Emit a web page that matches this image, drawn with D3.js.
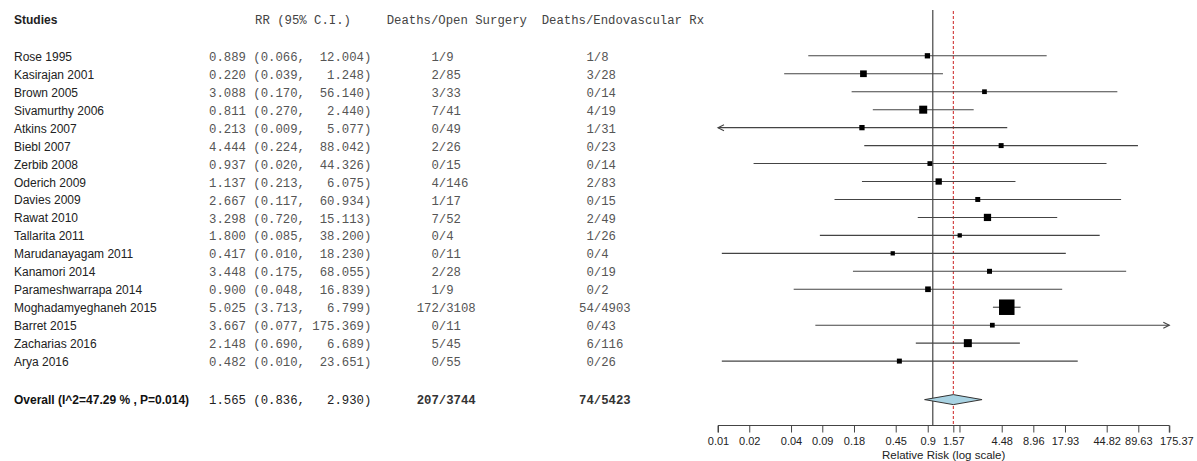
<!DOCTYPE html>
<html>
<head>
<meta charset="utf-8">
<script src="https://cdn.jsdelivr.net/npm/d3@7"></script>
<style>
  html, body { margin: 0; padding: 0; background: #fff; }
  svg { display: block; }
  text { white-space: pre; }
</style>
</head>
<body>
<svg id="chart" width="1197" height="461"></svg>
<script>
// Study-level data: relative risk of death, open surgery vs endovascular repair
const studies = ["Rose 1995", "Kasirajan 2001", "Brown 2005", "Sivamurthy 2006", "Atkins 2007",
  "Biebl 2007", "Zerbib 2008", "Oderich 2009", "Davies 2009", "Rawat 2010", "Tallarita 2011",
  "Marudanayagam 2011", "Kanamori 2014", "Parameshwarrapa 2014", "Moghadamyeghaneh 2015",
  "Barret 2015", "Zacharias 2016", "Arya 2016"];
const rr    = [0.889, 0.220, 3.088, 0.811, 0.213, 4.444, 0.937, 1.137, 2.667, 3.298, 1.800, 0.417, 3.448, 0.900, 5.025, 3.667, 2.148, 0.482];
const lower = [0.066, 0.039, 0.170, 0.270, 0.009, 0.224, 0.020, 0.213, 0.117, 0.720, 0.085, 0.010, 0.175, 0.048, 3.713, 0.077, 0.690, 0.010];
const upper = [12.004, 1.248, 56.140, 2.440, 5.077, 88.042, 44.326, 6.075, 60.934, 15.113, 38.200, 18.230, 68.055, 16.839, 6.799, 175.369, 6.689, 23.651];
const openDeaths = [1, 2, 3, 7, 0, 2, 0, 4, 1, 7, 0, 0, 2, 1, 172, 0, 5, 0];
const openTotal  = [9, 85, 33, 41, 49, 26, 15, 146, 17, 52, 4, 11, 28, 9, 3108, 11, 45, 55];
const endoDeaths = [1, 3, 0, 4, 1, 0, 0, 2, 0, 2, 1, 0, 0, 0, 54, 0, 6, 0];
const endoTotal  = [8, 28, 14, 19, 31, 23, 14, 83, 15, 49, 26, 4, 19, 2, 4903, 43, 116, 26];
// relative study weights (%), box area is proportional to weight
const weights = [3.5, 5.6, 2.8, 8.0, 3.5, 3.1, 2.8, 5.0, 3.1, 6.6, 2.3, 2.3, 3.1, 4.0, 30.1, 2.8, 8.0, 3.1];

// Pooled estimate
const overallLabel = "Overall (I^2=47.29 % , P=0.014)";
const overallRR = 1.565, overallLower = 0.836, overallUpper = 2.930;

// Axis ticks (positions and their printed labels)
const tickValues = [0.0092, 0.0182, 0.0453, 0.0896, 0.179, 0.445, 0.895, 1.565, 1.79, 4.50, 8.97, 17.9, 44.5, 88.7, 174.5];
const tickLabels = ["0.01", "0.02", "0.04", "0.09", "0.18", "0.45", "0.9", "1.57", "", "4.48", "8.96", "17.93", "44.82", "89.63", "175.37"];

const svg = d3.select("#chart");
const sans = "'Liberation Sans', Arial, sans-serif";
const mono = "'Liberation Mono', 'Courier New', monospace";

const x = d3.scaleLog().domain([tickValues[0], tickValues[tickValues.length - 1]]).range([718, 1169.3]);
const y = d3.scaleLinear().domain([0, studies.length - 1]).range([56.6, 361.9]);
const overallY = y(19.1);
const box = d3.scaleSqrt().domain([0, d3.max(weights)]).range([0, 15.5]);
const axisY = 425.5;

// Column headers
svg.append("text").attr("x", 14).attr("y", 20).attr("dy", "0.35em")
  .attr("font-family", sans).attr("font-size", 12).attr("font-weight", "bold").attr("fill", "#222")
  .text("Studies");
const headers = [["RR (95% C.I.)", 255], ["Deaths/Open Surgery", 386.7], ["Deaths/Endovascular Rx", 541.7]];
svg.selectAll("text.hdr").data(headers).join("text").attr("class", "hdr")
  .attr("x", d => d[1]).attr("y", 20).attr("dy", "0.35em")
  .attr("font-family", mono).attr("font-size", 12.3).attr("fill", "#444")
  .text(d => d[0]);

const fmtCI = (r, lo, up) => `${r.toFixed(3)} (${lo.toFixed(3)}, ${up.toFixed(3).padStart(7)})`;

const rows = studies.map((s, i) => ({
  name: s, rr: rr[i], lo: lower[i], up: upper[i], w: weights[i],
  open: String(openDeaths[i]).padStart(3) + "/" + openTotal[i],
  endo: String(endoDeaths[i]).padStart(2) + "/" + endoTotal[i],
  i
}));

const g = svg.append("g");
g.selectAll("text.name").data(rows).join("text").attr("class", "name")
  .attr("x", 14).attr("y", d => y(d.i)).attr("dy", "0.35em")
  .attr("font-family", sans).attr("font-size", 12).attr("fill", "#222").text(d => d.name);
g.selectAll("text.ci").data(rows).join("text").attr("class", "ci")
  .attr("x", 209).attr("y", d => y(d.i)).attr("dy", "0.35em")
  .attr("font-family", mono).attr("font-size", 12.3).attr("fill", "#555")
  .text(d => fmtCI(d.rr, d.lo, d.up));
g.selectAll("text.open").data(rows).join("text").attr("class", "open")
  .attr("x", 416.7).attr("y", d => y(d.i)).attr("dy", "0.35em")
  .attr("font-family", mono).attr("font-size", 12.3).attr("fill", "#555").text(d => d.open);
g.selectAll("text.endo").data(rows).join("text").attr("class", "endo")
  .attr("x", 579).attr("y", d => y(d.i)).attr("dy", "0.35em")
  .attr("font-family", mono).attr("font-size", 12.3).attr("fill", "#555").text(d => d.endo);

// Overall row
svg.append("text").attr("x", 14).attr("y", overallY).attr("dy", "0.35em")
  .attr("font-family", sans).attr("font-size", 12).attr("font-weight", "bold").attr("fill", "#111")
  .text(overallLabel);
svg.append("text").attr("x", 209).attr("y", overallY).attr("dy", "0.35em")
  .attr("font-family", mono).attr("font-size", 12.3).attr("fill", "#222")
  .text(fmtCI(overallRR, overallLower, overallUpper));
svg.append("text").attr("x", 416.7).attr("y", overallY).attr("dy", "0.35em")
  .attr("font-family", mono).attr("font-size", 12.3).attr("font-weight", "bold").attr("fill", "#333")
  .text(String(d3.sum(openDeaths)).padStart(3) + "/" + d3.sum(openTotal));
svg.append("text").attr("x", 579).attr("y", overallY).attr("dy", "0.35em")
  .attr("font-family", mono).attr("font-size", 12.3).attr("font-weight", "bold").attr("fill", "#333")
  .text(String(d3.sum(endoDeaths)).padStart(2) + "/" + d3.sum(endoTotal));

// Reference lines: no effect (RR = 1) and pooled estimate
svg.append("line").attr("x1", x(1)).attr("x2", x(1)).attr("y1", 10).attr("y2", axisY)
  .attr("stroke", "#333").attr("stroke-width", 1.1);
svg.append("line").attr("x1", x(overallRR)).attr("x2", x(overallRR)).attr("y1", 11).attr("y2", axisY)
  .attr("stroke", "#cc2222").attr("stroke-width", 1).attr("stroke-dasharray", "3,2");

// Confidence intervals, clipped to the axis range with arrows
const [dMin, dMax] = x.domain();
const ci = svg.append("g").attr("stroke", "#444").attr("stroke-width", 1.1).attr("fill", "none");
rows.forEach(d => {
  const yy = y(d.i) - 0.8;
  const x0 = x(Math.max(d.lo, dMin)), x1 = x(Math.min(d.up, dMax));
  ci.append("line").attr("x1", x0).attr("x2", x1).attr("y1", yy).attr("y2", yy);
  if (d.lo < dMin) ci.append("path").attr("d", `M${x0 + 6},${yy - 3}L${x0},${yy}L${x0 + 6},${yy + 3}`);
  if (d.up > dMax) ci.append("path").attr("d", `M${x1 - 6},${yy - 3}L${x1},${yy}L${x1 - 6},${yy + 3}`);
});

// Study boxes
svg.selectAll("rect.box").data(rows).join("rect").attr("class", "box")
  .attr("x", d => x(d.rr) - box(d.w) / 2).attr("y", d => y(d.i) - 0.8 - box(d.w) / 2)
  .attr("width", d => box(d.w)).attr("height", d => box(d.w))
  .attr("fill", "#000");

// Pooled diamond
const dh = 5;
svg.append("path")
  .attr("d", `M${x(overallLower)},${overallY}L${x(overallRR)},${overallY - dh}L${x(overallUpper)},${overallY}L${x(overallRR)},${overallY + dh}Z`)
  .attr("fill", "#a9d3e3").attr("stroke", "#333").attr("stroke-width", 1);

// Log-scale axis
const axis = d3.axisBottom(x).tickValues(tickValues).tickSize(7).tickPadding(5)
  .tickFormat((v, i) => tickLabels[i]);
const ax = svg.append("g").attr("transform", `translate(0,${axisY})`).call(axis);
ax.select(".domain").attr("stroke", "#444").attr("d", `M${x.range()[0]},7V0H${x.range()[1]}V7`);
ax.selectAll(".tick line").attr("stroke", "#444");
ax.selectAll(".tick text").attr("font-family", sans).attr("font-size", 11).attr("fill", "#222");
// nudge the last label so it clears its neighbour
ax.selectAll(".tick text").filter((v, i) => i === tickValues.length - 1).attr("dx", 7);

svg.append("text").attr("x", (x.range()[0] + x.range()[1]) / 2).attr("y", 454.5).attr("dy", "0.35em")
  .attr("text-anchor", "middle").attr("font-family", sans).attr("font-size", 11.5).attr("fill", "#222")
  .text("Relative Risk (log scale)");
</script>
</body>
</html>
